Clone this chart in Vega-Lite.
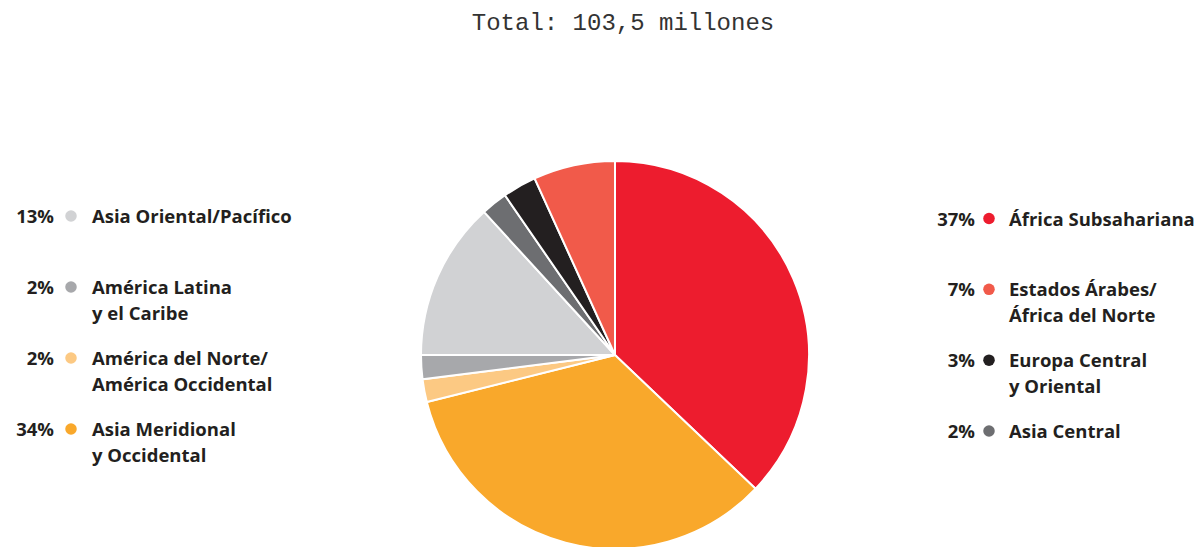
{
  "$schema": "https://vega.github.io/schema/vega-lite/v6.json",
  "padding": {"top": 11, "left": 0, "right": 0, "bottom": 0},
  "title": {"text": "Total: 103,5 millones", "font": "Liberation Mono", "fontSize": 24, "fontWeight": "normal", "color": "#333333", "anchor": "middle", "dx": 24, "offset": 122},
  "datasets": {
    "regions": [
      {"region": "África Subsahariana", "label": "África Subsahariana", "pct": "37%", "value": 37.1, "ord": 1, "side": "right"},
      {"region": "Asia Meridional y Occidental", "label": "Asia Meridional\ny Occidental", "pct": "34%", "value": 34.0, "ord": 2, "side": "left"},
      {"region": "América del Norte/América Occidental", "label": "América del Norte/\nAmérica Occidental", "pct": "2%", "value": 1.9, "ord": 3, "side": "left"},
      {"region": "América Latina y el Caribe", "label": "América Latina\ny el Caribe", "pct": "2%", "value": 2.0, "ord": 4, "side": "left"},
      {"region": "Asia Oriental/Pacífico", "label": "Asia Oriental/Pacífico", "pct": "13%", "value": 13.2, "ord": 5, "side": "left"},
      {"region": "Asia Central", "label": "Asia Central", "pct": "2%", "value": 2.2, "ord": 6, "side": "right"},
      {"region": "Europa Central y Oriental", "label": "Europa Central\ny Oriental", "pct": "3%", "value": 2.8, "ord": 7, "side": "right"},
      {"region": "Estados Árabes/África del Norte", "label": "Estados Árabes/\nÁfrica del Norte", "pct": "7%", "value": 6.8, "ord": 8, "side": "right"}
    ]
  },
  "spacing": 0,
  "hconcat": [
    {
      "width": 417, "height": 390,
      "data": {"name": "regions"},
      "transform": [{"filter": "datum.side === 'left'"}],
      "encoding": {
        "y": {"field": "region", "type": "nominal", "sort": ["Asia Oriental/Pacífico", "América Latina y el Caribe", "América del Norte/América Occidental", "Asia Meridional y Occidental"], "scale": {"type": "point", "range": [56, 269], "padding": 0}, "axis": null}
      },
      "layer": [
        {"mark": {"type": "text", "align": "right", "baseline": "alphabetic", "dy": 7, "font": "Open Sans", "fontSize": 18.5, "fontWeight": "bold", "color": "#231F20"},
         "encoding": {"x": {"value": 54}, "text": {"field": "pct"}}},
        {"mark": {"type": "point", "filled": true, "size": 133, "opacity": 1, "shape": "circle"},
         "encoding": {"x": {"value": 71}, "color": {"field": "region", "type": "nominal", "legend": null,
           "scale": {"domain": ["África Subsahariana", "Asia Meridional y Occidental", "América del Norte/América Occidental", "América Latina y el Caribe", "Asia Oriental/Pacífico", "Asia Central", "Europa Central y Oriental", "Estados Árabes/África del Norte"],
                     "range": ["#ED1C2E", "#F9A82B", "#FCC983", "#A7A8AB", "#D1D2D4", "#6D6E71", "#231F20", "#F15A4A"]}}}},
        {"mark": {"type": "text", "align": "left", "baseline": "alphabetic", "dy": 7, "lineBreak": "\n", "lineHeight": 26, "font": "Open Sans", "fontSize": 18.5, "fontWeight": "bold", "color": "#231F20"},
         "encoding": {"x": {"value": 92}, "text": {"field": "label"}}}
      ]
    },
    {
      "width": 390, "height": 390,
      "data": {"name": "regions"},
      "mark": {"type": "arc", "outerRadius": 194, "stroke": "#FFFFFF", "strokeWidth": 2},
      "encoding": {
        "theta": {"field": "value", "type": "quantitative", "stack": true},
        "order": {"field": "ord", "type": "quantitative"},
        "color": {"field": "region", "type": "nominal", "legend": null,
           "scale": {"domain": ["África Subsahariana", "Asia Meridional y Occidental", "América del Norte/América Occidental", "América Latina y el Caribe", "Asia Oriental/Pacífico", "Asia Central", "Europa Central y Oriental", "Estados Árabes/África del Norte"],
                     "range": ["#ED1C2E", "#F9A82B", "#FCC983", "#A7A8AB", "#D1D2D4", "#6D6E71", "#231F20", "#F15A4A"]}}
      }
    },
    {
      "width": 385, "height": 390,
      "data": {"name": "regions"},
      "transform": [{"filter": "datum.side === 'right'"}],
      "encoding": {
        "y": {"field": "region", "type": "nominal", "sort": ["África Subsahariana", "Estados Árabes/África del Norte", "Europa Central y Oriental", "Asia Central"], "scale": {"type": "point", "range": [58.5, 271], "padding": 0}, "axis": null}
      },
      "layer": [
        {"mark": {"type": "text", "align": "right", "baseline": "alphabetic", "dy": 7, "font": "Open Sans", "fontSize": 18.5, "fontWeight": "bold", "color": "#231F20"},
         "encoding": {"x": {"value": 162}, "text": {"field": "pct"}}},
        {"mark": {"type": "point", "filled": true, "size": 133, "opacity": 1, "shape": "circle"},
         "encoding": {"x": {"value": 176}, "color": {"field": "region", "type": "nominal", "legend": null,
           "scale": {"domain": ["África Subsahariana", "Asia Meridional y Occidental", "América del Norte/América Occidental", "América Latina y el Caribe", "Asia Oriental/Pacífico", "Asia Central", "Europa Central y Oriental", "Estados Árabes/África del Norte"],
                     "range": ["#ED1C2E", "#F9A82B", "#FCC983", "#A7A8AB", "#D1D2D4", "#6D6E71", "#231F20", "#F15A4A"]}}}},
        {"mark": {"type": "text", "align": "left", "baseline": "alphabetic", "dy": 7, "lineBreak": "\n", "lineHeight": 26, "font": "Open Sans", "fontSize": 18.5, "fontWeight": "bold", "color": "#231F20"},
         "encoding": {"x": {"value": 196}, "text": {"field": "label"}}}
      ]
    }
  ],
  "config": {"view": {"stroke": null}}
}
